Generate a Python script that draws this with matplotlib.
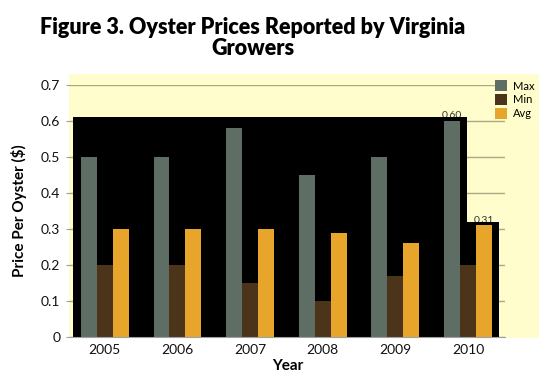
import matplotlib
matplotlib.use("Agg")
import matplotlib.pyplot as plt
from matplotlib.patches import Rectangle
import numpy as np

years = ["2005", "2006", "2007", "2008", "2009", "2010"]
max_vals = [0.50, 0.50, 0.58, 0.45, 0.50, 0.60]
min_vals = [0.20, 0.20, 0.15, 0.10, 0.17, 0.20]
avg_vals = [0.30, 0.30, 0.30, 0.29, 0.26, 0.31]
series_names = ["Max", "Min", "Avg"]
colors = ["#5E6E65", "#4B3419", "#E8A52B"]

plt.rcParams['font.family'] = ['Lato', 'DejaVu Sans']
fig = plt.figure(figsize=(5.5, 3.75), dpi=100)
fig.patch.set_facecolor("white")

# plot-area background
bg = Rectangle((69/550, 1-338/375), (539-69)/550, (338-74)/375,
               transform=fig.transFigure, facecolor="#FFFDCB",
               edgecolor="none", zorder=-5)
fig.patches.append(bg)

ax = fig.add_axes([70/550, 1-337/375, (505-70)/550, (337-85)/375])
ax.set_facecolor("none")
ax.set_zorder(2)

x = np.arange(len(years))
bw = 0.22

# black artifact regions behind the bars (label-box rendering)
top_all = max(max_vals)
ax.add_patch(Rectangle((-0.44, 0), (x[-1] - bw/2 + 0.1) + 0.44, top_all + 0.01,
                       facecolor="black", edgecolor="none", zorder=1))
ax.add_patch(Rectangle((x[-1] - bw/2 + 0.1, 0), (x[-1] + 1.5*bw + 0.1) - (x[-1] - bw/2 + 0.1),
                       avg_vals[-1] + 0.01, facecolor="black", edgecolor="none", zorder=1))

for i, (vals, c, name) in enumerate(zip([max_vals, min_vals, avg_vals], colors, series_names)):
    ax.bar(x + (i - 1) * bw, vals, width=bw, color=c, label=name, zorder=2)
    for xi, v in zip(x + (i - 1) * bw, vals):
        ax.text(xi, v + 0.002, f"{v:.2f}", ha="center", va="bottom", fontsize=7.5,
                color="#333333", zorder=0.9)

ax.set_xlim(-0.48, 5.51)
ax.set_ylim(0, 0.7)
ax.set_yticks(np.arange(0, 0.71, 0.1))
ax.set_yticklabels(["0", "0.1", "0.2", "0.3", "0.4", "0.5", "0.6", "0.7"])
ax.set_xticks(x)
ax.set_xticklabels(years)
ax.yaxis.grid(True, color="#A9A887", linewidth=1, zorder=0.5)
ax.set_axisbelow(True)
for s in ["top", "right", "left"]:
    ax.spines[s].set_visible(False)
ax.spines["bottom"].set_color("#A0A0A0")
ax.tick_params(axis="x", length=0, labelsize=10, colors="#111111", pad=5)
ax.tick_params(axis="y", length=3, color="#A0A0A0", labelsize=10, labelcolor="#111111", pad=4)
ax.set_xlabel("Year", fontsize=11, fontweight="bold", labelpad=2)
ax.set_ylabel("Price Per Oyster ($)", fontsize=11, fontweight="bold", labelpad=10)

fig.legend(loc="upper left", bbox_to_anchor=(491/550, 1-76/375), frameon=False,
           fontsize=8, handlelength=1.0, handleheight=1.1, handletextpad=0.6,
           labelspacing=0.25, borderaxespad=0)

fig.suptitle("Figure 3. Oyster Prices Reported by Virginia\nGrowers", x=0.46, y=0.955,
             fontsize=15.5, fontweight="heavy", linespacing=1.0)

fig.savefig("out.png", dpi=100)
